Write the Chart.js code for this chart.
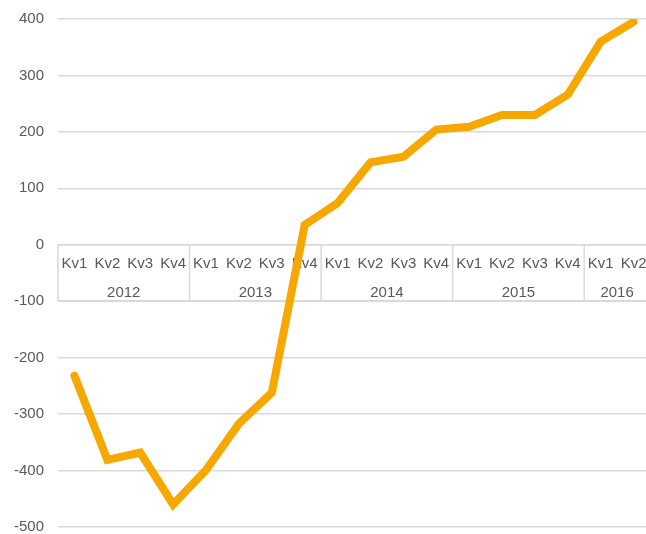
<!DOCTYPE html>
<html>
<head>
<meta charset="utf-8">
<script src="https://cdn.jsdelivr.net/npm/chart.js@4/dist/chart.umd.min.js"></script>
<style>
html,body{margin:0;padding:0;background:#fff;overflow:hidden;width:646px;height:534px;}
canvas{display:block;}
</style>
</head>
<body>
<canvas id="c" width="652" height="534"></canvas>
<script>
const quarters = ["Kv1","Kv2","Kv3","Kv4","Kv1","Kv2","Kv3","Kv4","Kv1","Kv2","Kv3","Kv4","Kv1","Kv2","Kv3","Kv4","Kv1","Kv2"];
const years = ["2012","2013","2014","2015","2016"];
const yearSizes = [4,4,4,4,2];
const values = [-232,-381,-368,-460,-399,-317,-262,35,74,146,156,204,209,230,230,266,360,395];
const yTicks = [-500,-400,-300,-200,-100,0,100,200,300,400];

const textColor = '#595959';
const gridColor = '#d9d9d9';
const FONT = '15px "Liberation Sans", Arial, sans-serif';

const catAxisPlugin = {
  id: 'catAxis',
  beforeDatasetsDraw(chart) {
    const ctx = chart.ctx;
    const x = chart.scales.x, y = chart.scales.y;
    const n = quarters.length;
    const left = chart.chartArea.left, right = chart.chartArea.right;
    const w = (right - left) / n;
    const y0 = y.getPixelForValue(0);
    const yb = y.getPixelForValue(-100);
    ctx.save();
    ctx.strokeStyle = gridColor;
    ctx.lineWidth = 1.5;
    // top line of the label box
    ctx.beginPath(); ctx.moveTo(left, y0); ctx.lineTo(right, y0); ctx.stroke();
    ctx.beginPath(); ctx.moveTo(left, yb); ctx.lineTo(right, yb); ctx.stroke();
    // year separators
    let idx = 0;
    const bounds = [0];
    yearSizes.forEach(s => { idx += s; bounds.push(idx); });
    bounds.forEach(b => {
      const px = left + b * w;
      ctx.beginPath(); ctx.moveTo(px, y0); ctx.lineTo(px, yb); ctx.stroke();
    });
    ctx.font = FONT;
    ctx.fillStyle = textColor;
    ctx.textAlign = 'center';
    ctx.textBaseline = 'middle';
    quarters.forEach((q, i) => {
      ctx.fillText(q, x.getPixelForValue(i), y0 + 19);
    });
    years.forEach((yr, k) => {
      const a = left + bounds[k] * w, b = left + bounds[k + 1] * w;
      ctx.fillText(yr, (a + b) / 2, y0 + 48);
    });
    ctx.restore();
  }
};

new Chart(document.getElementById('c'), {
  type: 'line',
  data: {
    labels: quarters.map((q, i) => q + '_' + i),
    datasets: [{
      data: values,
      borderColor: '#f7a800',
      borderWidth: 8,
      borderCapStyle: 'round',
      borderJoinStyle: 'miter',
      pointRadius: 0,
      tension: 0,
      fill: false
    }]
  },
  options: {
    responsive: false,
    animation: false,
    layout: { padding: { top: 19, bottom: 7, left: 0, right: 2 } },
    plugins: { legend: { display: false }, tooltip: { enabled: false } },
    scales: {
      x: {
        display: false,
        offset: true
      },
      y: {
        min: -500, max: 400,
        afterBuildTicks(scale) { scale.ticks = yTicks.map(v => ({ value: v })); },
        afterFit(scale) { scale.width = 58; scale.paddingTop = 0; scale.paddingBottom = 0; },
        border: { display: false },
        grid: { color: gridColor, lineWidth: 1.5, drawTicks: false },
        ticks: {
          color: textColor,
          font: { family: '"Liberation Sans", Arial, sans-serif', size: 15 },
          padding: 14
        }
      }
    }
  },
  plugins: [catAxisPlugin]
});
</script>
</body>
</html>
